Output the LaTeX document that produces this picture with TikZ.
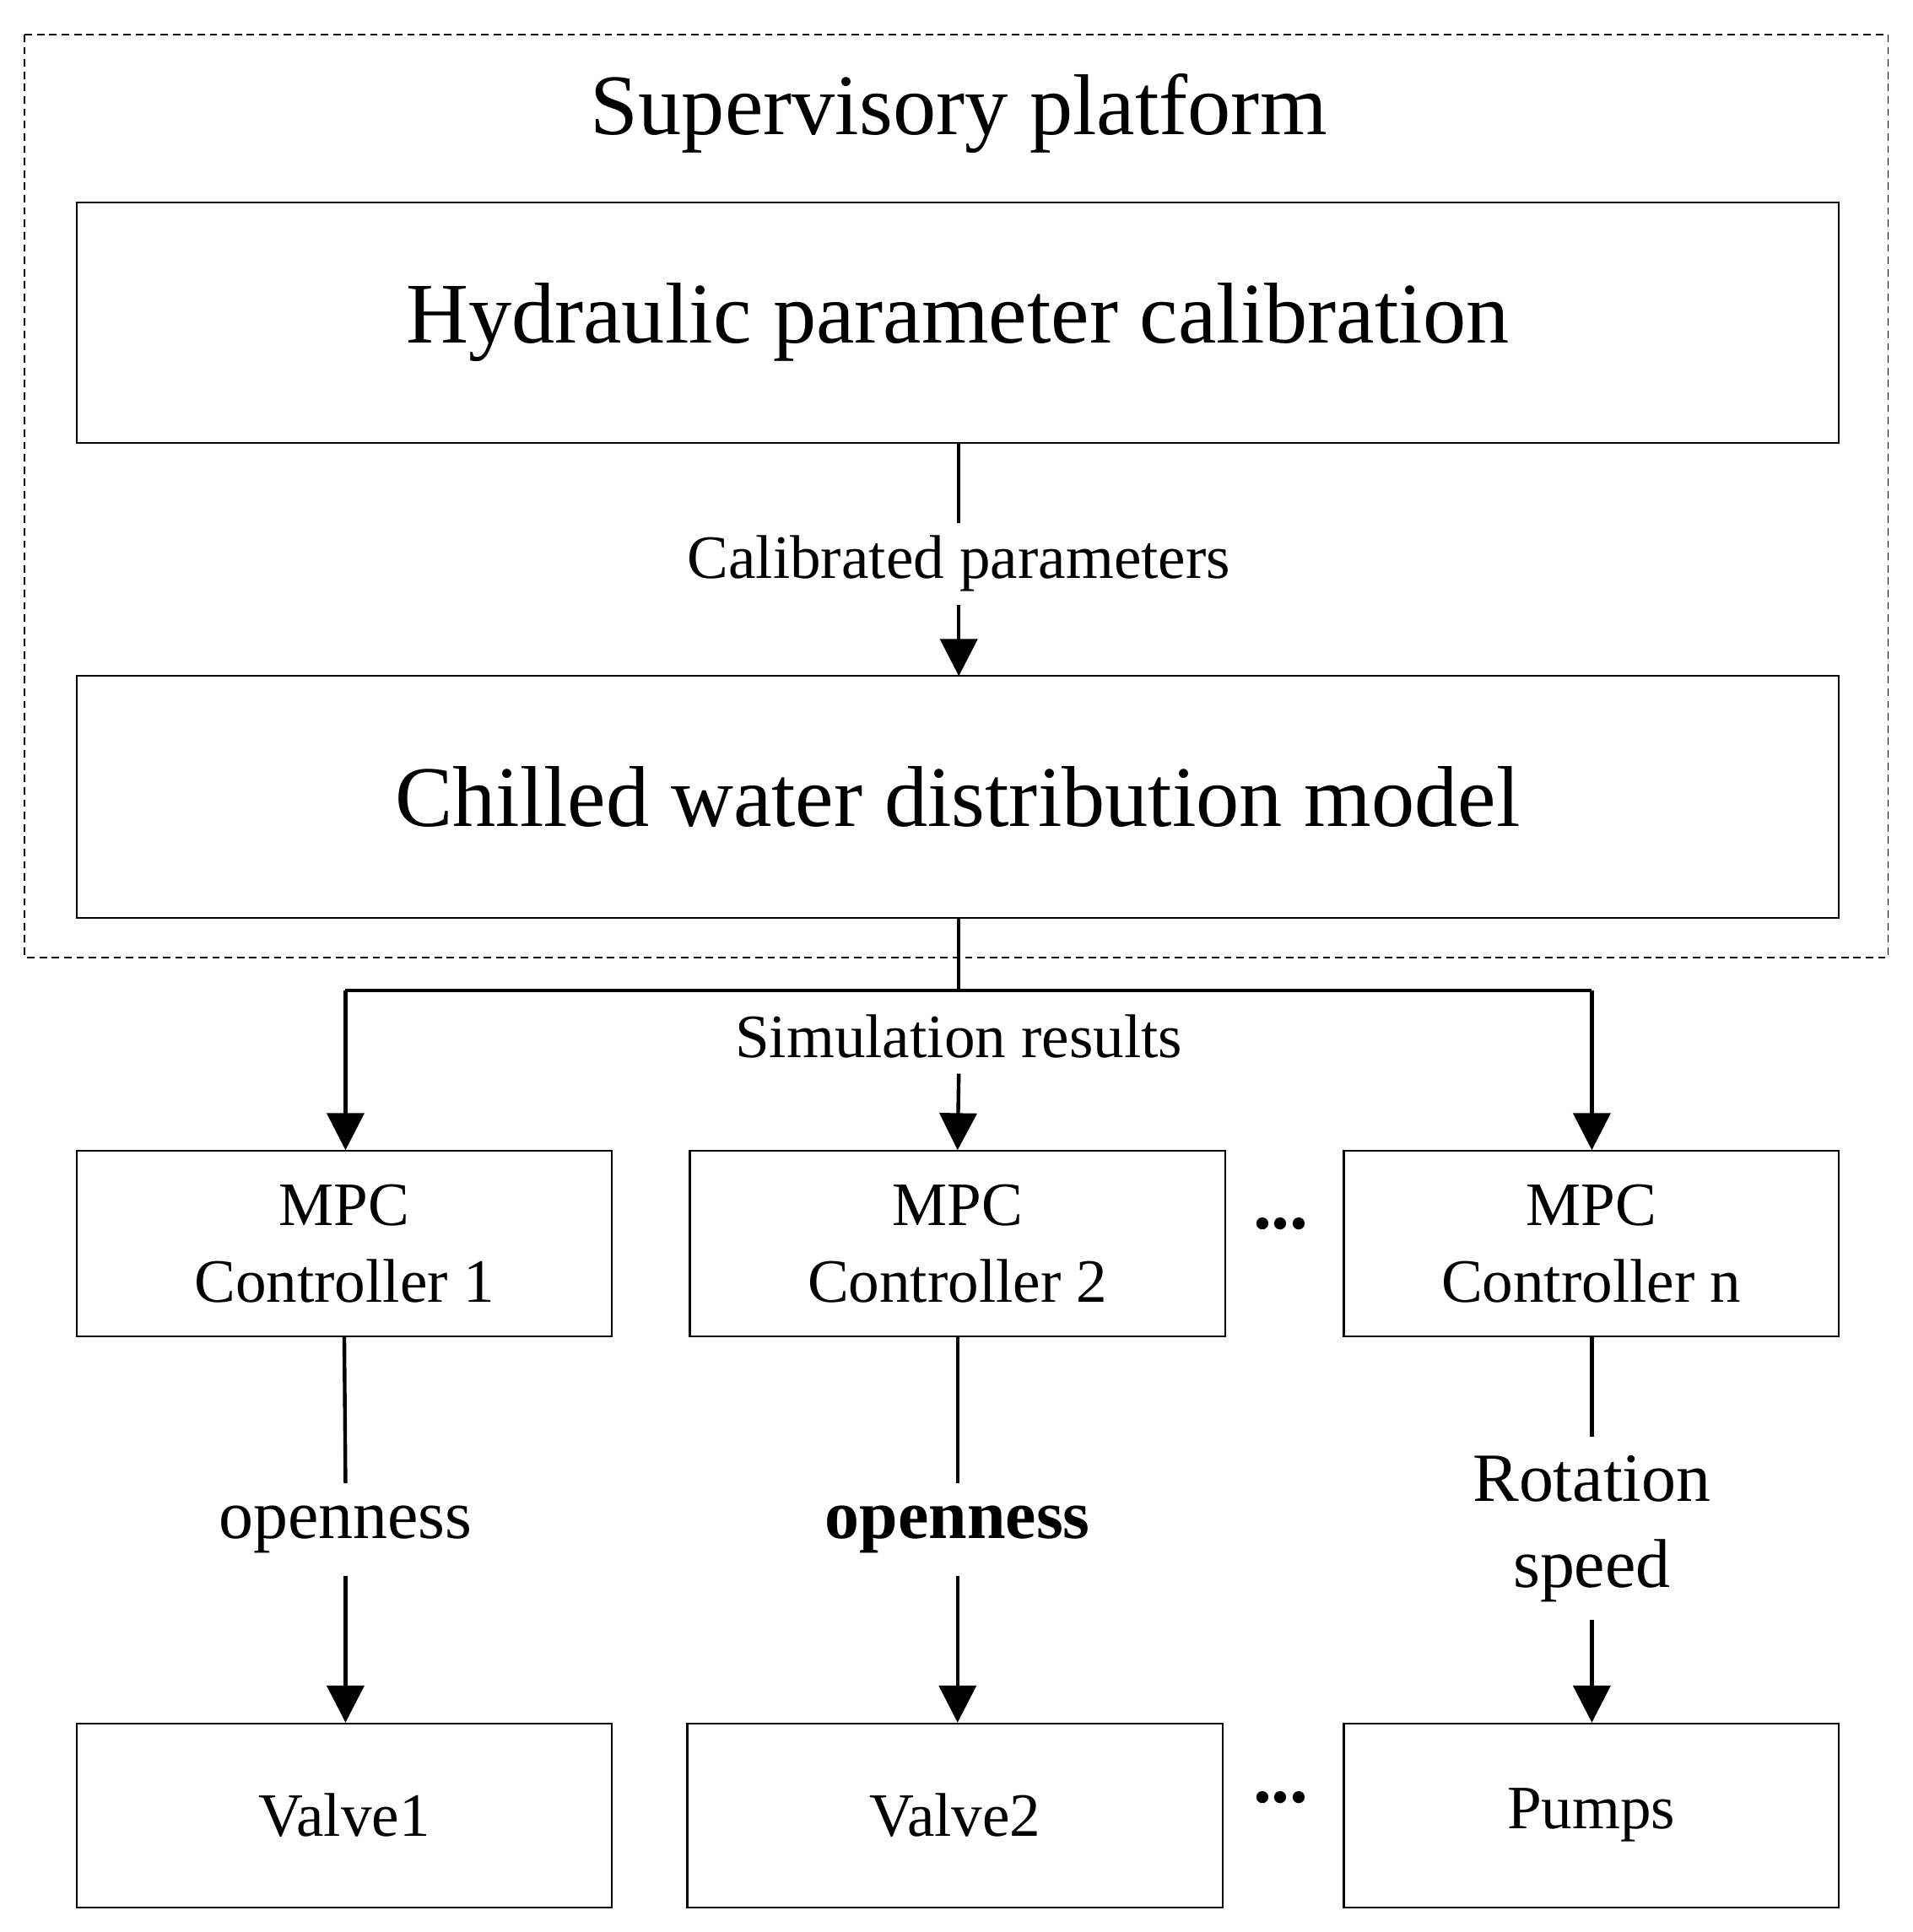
\documentclass[tikz,border=0pt]{standalone}
\usepackage{fontspec}
\setmainfont{Liberation Serif}
\usetikzlibrary{arrows.meta}
\begin{document}
\begin{tikzpicture}[x=1pt,y=-1pt,
 box/.style={draw,line width=1.5pt,inner sep=0pt},
 con/.style={line width=3pt},
 arr/.style={con,-{Triangle[length=30pt,width=30pt]}},
 dots/.style={font=\fontsize{60}{60}\selectfont\bfseries,inner sep=0pt},
 lab/.style={inner sep=0pt,font=\fontsize{50}{60}\selectfont}]
\useasboundingbox (0,0) rectangle (1550,1566);
\draw[dash pattern=on 6pt off 4pt,line width=1.2pt] (20,28) rectangle (1530,776);
\node[font=\fontsize{70}{80}\selectfont] (title) at (777,92) {Supervisory platform};
\node[box,minimum width=1428pt,minimum height=195pt,font=\fontsize{70}{80}\selectfont] (hyd) at (776,261.5) {Hydraulic parameter calibration};
\node[box,minimum width=1428pt,minimum height=196pt,font=\fontsize{70}{80}\selectfont] (chw) at (776,646) {Chilled water distribution model};
\node[lab,minimum height=66pt] (cal) at (777,457) {Calibrated parameters};
\draw[con] (777,359) -- (cal.north);
\draw[arr] (cal.south) -- (777,548);
\coordinate (j) at (777,803);
\coordinate (l) at (280,803);
\coordinate (r) at (1290,803);
\draw[con] (chw.south -| j) -- (j);
\draw[con] (l) -- (r);
\node[lab,minimum height=60pt] (sim) at (777,840) {Simulation results};
\tikzset{mid/.style={box,minimum width=434pt,minimum height=150pt,align=center,font=\fontsize{50}{62}\selectfont}}
\node[mid] (m1) at (279,1008) {MPC\\Controller 1};
\node[mid] (m2) at (776,1008) {MPC\\Controller 2};
\node[mid,minimum width=401pt] (mn) at (1289.5,1008) {MPC\\Controller n};
\draw[arr] (l) -- (m1.north -| l);
\draw[arr] (sim.south) -- (m2.north);
\draw[arr] (r) -- (mn.north -| r);
\node[dots] (d1) at (1038,992) {...};
\node[mid,minimum width=434pt,minimum height=149pt] (v1) at (279,1471.5) {Valve1};
\node[mid,minimum width=434pt,minimum height=149pt] (v2) at (774,1471.5) {Valve2};
\node[mid,minimum width=401pt,minimum height=149pt] (p) at (1289.5,1471.5) {Pumps};
\node[dots] (d2) at (1038,1457) {...};
\node[lab,font=\fontsize{56}{66}\selectfont,minimum height=75pt] (o1) at (280,1240) {openness};
\node[lab,font=\fontsize{56}{66}\selectfont,minimum height=75pt] (o2) at (776,1240) {\textbf{openness}};
\node[lab,font=\fontsize{56}{70}\selectfont,align=center,minimum height=148pt] (rs) at (1290,1239) {Rotation\\speed};
\draw[con] (m1.south) -- (o1.north);
\draw[arr] (o1.south) -- (v1.north -| o1.south);
\draw[con] (m2.south) -- (o2.north);
\draw[arr] (o2.south) -- (v2.north -| o2.south);
\draw[con] (mn.south -| rs.north) -- (rs.north);
\draw[arr] (rs.south) -- (p.north -| rs.south);
\end{tikzpicture}
\end{document}
